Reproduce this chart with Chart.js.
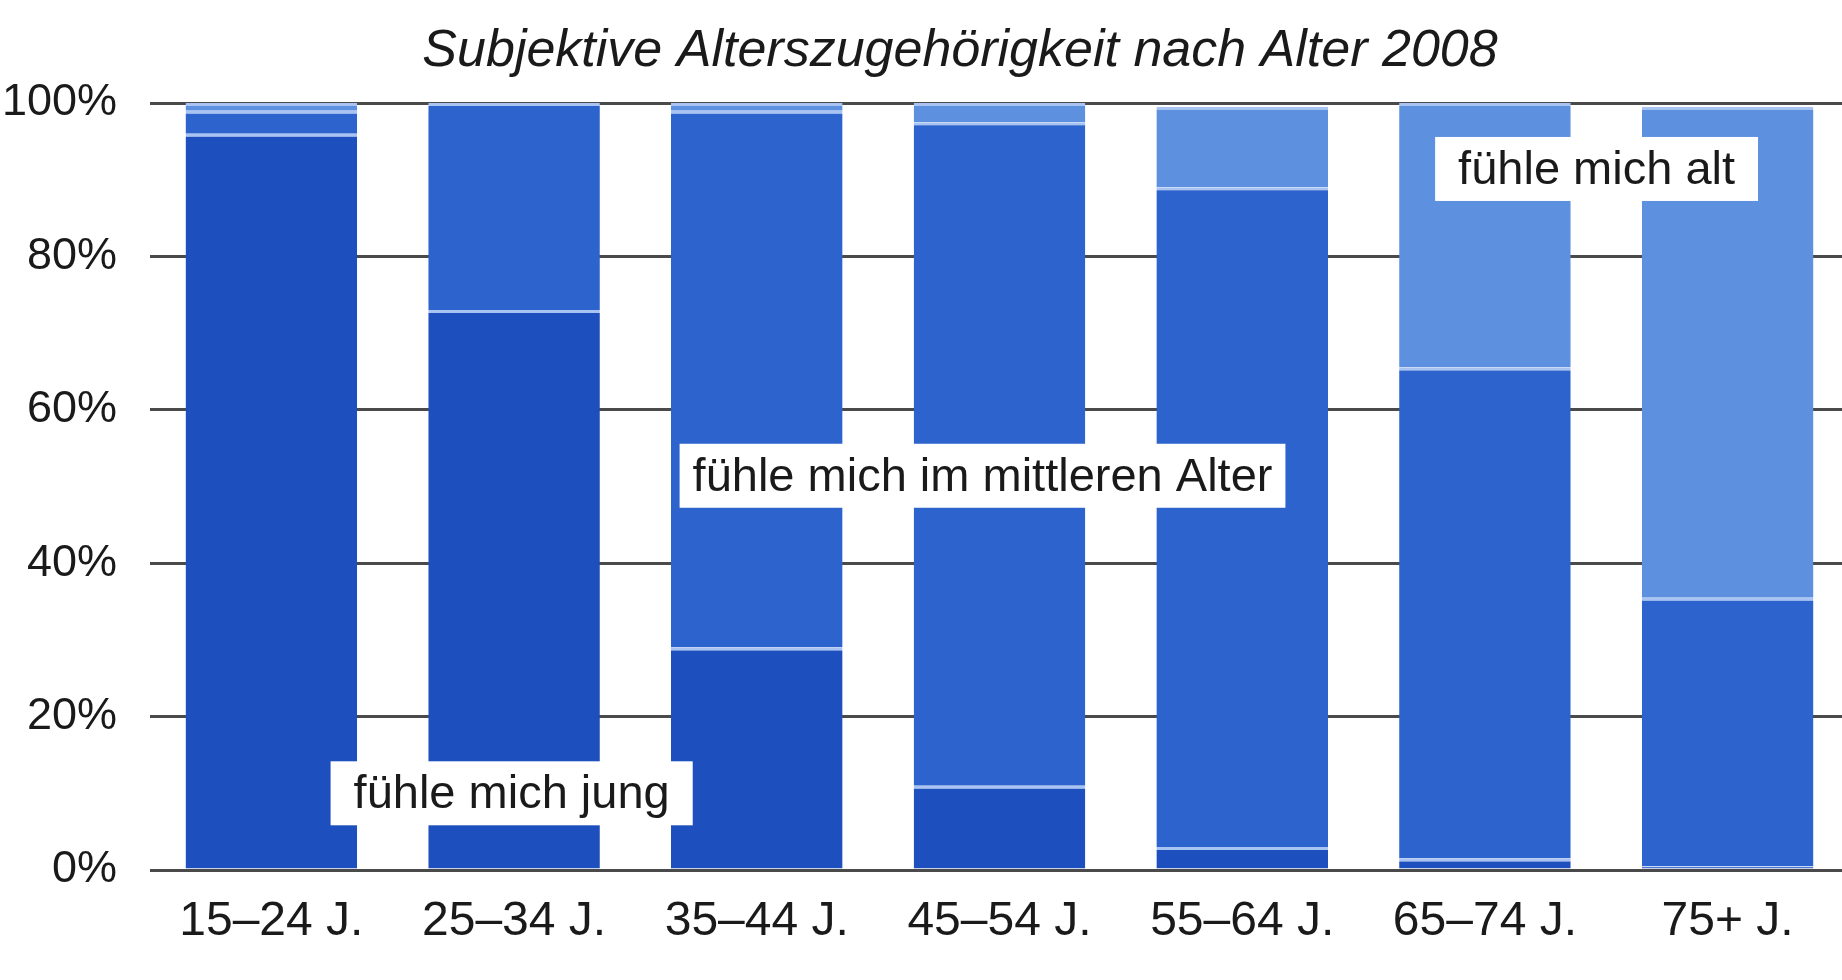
<!DOCTYPE html>
<html>
<head>
<meta charset="utf-8">
<script src="https://cdn.jsdelivr.net/npm/chart.js@4"></script>
<style>
  html, body { margin: 0; padding: 0; background: #fff; overflow: hidden; }
  #wrap { width: 1849px; height: 980px; }
</style>
</head>
<body>
<div id="wrap"><canvas id="chart" width="1849" height="980"></canvas></div>
<script>
const categories = ["15–24 J.", "25–34 J.", "35–44 J.", "45–54 J.", "55–64 J.", "65–74 J.", "75+ J."];
const jung = [96, 73, 29, 11, 3, 1.5, 0.5];
const mittel = [3, 27, 70, 86.5, 86, 64, 35];
const alt = [1, 0, 1, 2.5, 10.5, 34.5, 64];
const yTicks = [0, 20, 40, 60, 80, 100];

const FONT = "'Liberation Sans', Arial, sans-serif";

// boxed labels, placed in axis units (category index, percent)
const notes = [
  { text: "fühle mich jung", x: 0.99, y: 10 },
  { text: "fühle mich im mittleren Alter", x: 2.93, y: 51.4 },
  { text: "fühle mich alt", x: 5.46, y: 91.4 }
];

const titlePlugin = {
  id: "bookTitle",
  afterDraw(chart) {
    const ctx = chart.ctx;
    ctx.save();
    ctx.fillStyle = "#1a1a1a";
    ctx.font = "italic 52px " + FONT;
    ctx.textAlign = "center";
    ctx.textBaseline = "middle";
    ctx.fillText("Subjektive Alterszugehörigkeit nach Alter 2008", 960, 52);
    ctx.restore();
  }
};

const notePlugin = {
  id: "notes",
  afterDatasetsDraw(chart) {
    const ctx = chart.ctx;
    const xs = chart.scales.x, ys = chart.scales.y;
    const pitch = xs.getPixelForValue(1) - xs.getPixelForValue(0);
    ctx.save();
    ctx.font = "47px " + FONT;
    ctx.textBaseline = "middle";
    ctx.textAlign = "center";
    notes.forEach((n) => {
      const cx = xs.getPixelForValue(0) + n.x * pitch;
      const cy = ys.getPixelForValue(n.y);
      const w = ctx.measureText(n.text).width + (n.text.length > 20 ? 26 : 46);
      const h = 64;
      ctx.fillStyle = "#ffffff";
      ctx.fillRect(cx - w / 2, cy - h / 2, w, h);
      ctx.fillStyle = "#1a1a1a";
      ctx.fillText(n.text, cx, cy + 2);
    });
    ctx.restore();
  }
};

function seg(label, data, color) {
  return {
    label: label,
    data: data,
    backgroundColor: color,
    borderColor: "#a9c4f3",
    borderWidth: { top: 3, bottom: 0, left: 0, right: 0 },
    borderSkipped: false,
    barPercentage: 0.707,
    categoryPercentage: 1.0
  };
}

new Chart(document.getElementById("chart"), {
  type: "bar",
  data: {
    labels: categories,
    datasets: [
      seg("fühle mich jung", jung, "#1e4fbe"),
      seg("fühle mich im mittleren Alter", mittel, "#2d63cc"),
      seg("fühle mich alt", alt, "#5e90e0")
    ]
  },
  options: {
    responsive: false,
    animation: false,
    layout: { padding: { top: 103, right: 0, left: 0, bottom: 0 } },
    plugins: {
      legend: { display: false },
      tooltip: { enabled: false }
    },
    scales: {
      x: {
        stacked: true,
        grid: { display: false },
        border: { display: false },
        ticks: {
          color: "#1a1a1a",
          font: { family: FONT, size: 48 },
          padding: 15,
          maxRotation: 0
        },
        afterFit(scale) { scale.height = 110; }
      },
      y: {
        stacked: true,
        min: 0,
        max: 100,
        afterBuildTicks(scale) { scale.ticks = yTicks.map((v) => ({ value: v })); },
        grid: { color: "#4a4a4a", lineWidth: 3, drawTicks: false },
        border: { display: false },
        ticks: {
          color: "#1a1a1a",
          font: { family: FONT, size: 45 },
          padding: 33,
          callback: (v) => v + "%"
        },
        afterFit(scale) { scale.width = 150; }
      }
    }
  },
  plugins: [titlePlugin, notePlugin]
});
</script>
</body>
</html>
